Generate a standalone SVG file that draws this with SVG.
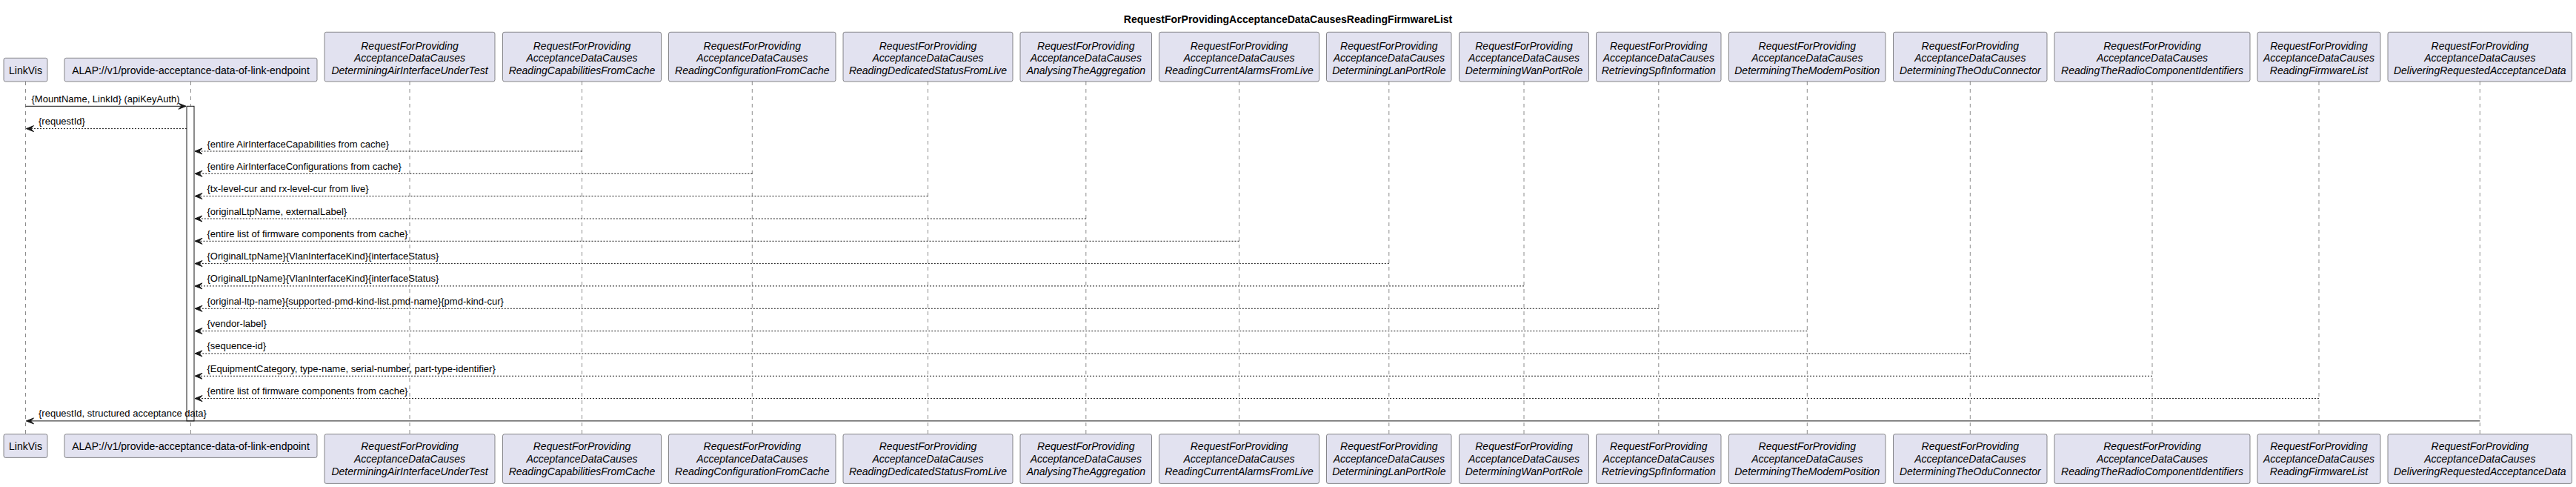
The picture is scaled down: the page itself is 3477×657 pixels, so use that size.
<svg xmlns="http://www.w3.org/2000/svg" width="3477" height="657" viewBox="0 0 3477 657">
<style>
.bg{fill:#FFFFFF}
.box{fill:#E2E2F0;stroke:#181818;stroke-width:0.5}
.pt{font-family:"Liberation Sans",Arial,sans-serif;font-size:14px;fill:#000000;text-anchor:middle}
.it{font-style:italic}
.life{stroke:#181818;stroke-width:0.5;stroke-dasharray:5,5;fill:none}
.act{fill:#FFFFFF;stroke:#181818;stroke-width:1}
.msg{stroke:#181818;stroke-width:1;fill:none;marker-end:url(#arr)}
.dash{stroke-dasharray:2,2}
.ml{font-family:"Liberation Sans",Arial,sans-serif;font-size:13px;fill:#000000}
.title{font-family:"Liberation Sans",Arial,sans-serif;font-size:14px;font-weight:bold;fill:#000000;text-anchor:middle}
</style>
<defs>
<marker id="arr" markerUnits="userSpaceOnUse" markerWidth="12" markerHeight="10" refX="10" refY="4" orient="auto" viewBox="-1 -1 12 10">
<path d="M0,0 L10,4 L0,8 L4,4 Z" fill="#181818" stroke="#181818" stroke-width="1" stroke-linejoin="miter"/>
</marker>
</defs>
<rect class="bg" x="0" y="0" width="3477" height="657"/>
<text class="title" x="1738.5" y="30.5">RequestForProvidingAcceptanceDataCausesReadingFirmwareList</text>

<g id="LinkVis">
<line class="life" x1="34.5" y1="110" x2="34.5" y2="585.7"/>
<rect class="box" x="5" y="78.3" width="59" height="31.7" rx="2.5"/>
<text class="pt" x="34.5" y="100">LinkVis</text>
<rect class="box" x="5" y="585.7" width="59" height="31.7" rx="2.5"/>
<text class="pt" x="34.5" y="607.3">LinkVis</text>
</g>

<g id="ALAP">
<line class="life" x1="257.5" y1="110" x2="257.5" y2="585.7"/>
<rect class="box" x="87" y="78.3" width="341" height="31.7" rx="2.5"/>
<text class="pt" x="257.5" y="100">ALAP://v1/provide-acceptance-data-of-link-endpoint</text>
<rect class="box" x="87" y="585.7" width="341" height="31.7" rx="2.5"/>
<text class="pt" x="257.5" y="607.3">ALAP://v1/provide-acceptance-data-of-link-endpoint</text>
</g>

<g id="DeterminingAirInterfaceUnderTest">
<line class="life" x1="553" y1="110" x2="553" y2="585.7"/>
<rect class="box" x="438" y="43.3" width="230" height="66.7" rx="2.5"/>
<text class="pt it" x="553" y="66.6">RequestForProviding</text>
<text class="pt it" x="553" y="83.3">AcceptanceDataCauses</text>
<text class="pt it" x="553" y="100">DeterminingAirInterfaceUnderTest</text>
<rect class="box" x="438" y="585.7" width="230" height="66.7" rx="2.5"/>
<text class="pt it" x="553" y="607.3">RequestForProviding</text>
<text class="pt it" x="553" y="624">AcceptanceDataCauses</text>
<text class="pt it" x="553" y="640.7">DeterminingAirInterfaceUnderTest</text>
</g>

<g id="ReadingCapabilitiesFromCache">
<line class="life" x1="785.5" y1="110" x2="785.5" y2="585.7"/>
<rect class="box" x="678.5" y="43.3" width="214" height="66.7" rx="2.5"/>
<text class="pt it" x="785.5" y="66.6">RequestForProviding</text>
<text class="pt it" x="785.5" y="83.3">AcceptanceDataCauses</text>
<text class="pt it" x="785.5" y="100">ReadingCapabilitiesFromCache</text>
<rect class="box" x="678.5" y="585.7" width="214" height="66.7" rx="2.5"/>
<text class="pt it" x="785.5" y="607.3">RequestForProviding</text>
<text class="pt it" x="785.5" y="624">AcceptanceDataCauses</text>
<text class="pt it" x="785.5" y="640.7">ReadingCapabilitiesFromCache</text>
</g>

<g id="ReadingConfigurationFromCache">
<line class="life" x1="1015.3" y1="110" x2="1015.3" y2="585.7"/>
<rect class="box" x="902.5" y="43.3" width="225.5" height="66.7" rx="2.5"/>
<text class="pt it" x="1015.3" y="66.6">RequestForProviding</text>
<text class="pt it" x="1015.3" y="83.3">AcceptanceDataCauses</text>
<text class="pt it" x="1015.3" y="100">ReadingConfigurationFromCache</text>
<rect class="box" x="902.5" y="585.7" width="225.5" height="66.7" rx="2.5"/>
<text class="pt it" x="1015.3" y="607.3">RequestForProviding</text>
<text class="pt it" x="1015.3" y="624">AcceptanceDataCauses</text>
<text class="pt it" x="1015.3" y="640.7">ReadingConfigurationFromCache</text>
</g>

<g id="ReadingDedicatedStatusFromLive">
<line class="life" x1="1252.5" y1="110" x2="1252.5" y2="585.7"/>
<rect class="box" x="1138" y="43.3" width="229" height="66.7" rx="2.5"/>
<text class="pt it" x="1252.5" y="66.6">RequestForProviding</text>
<text class="pt it" x="1252.5" y="83.3">AcceptanceDataCauses</text>
<text class="pt it" x="1252.5" y="100">ReadingDedicatedStatusFromLive</text>
<rect class="box" x="1138" y="585.7" width="229" height="66.7" rx="2.5"/>
<text class="pt it" x="1252.5" y="607.3">RequestForProviding</text>
<text class="pt it" x="1252.5" y="624">AcceptanceDataCauses</text>
<text class="pt it" x="1252.5" y="640.7">ReadingDedicatedStatusFromLive</text>
</g>

<g id="AnalysingTheAggregation">
<line class="life" x1="1465.8" y1="110" x2="1465.8" y2="585.7"/>
<rect class="box" x="1377" y="43.3" width="177.5" height="66.7" rx="2.5"/>
<text class="pt it" x="1465.8" y="66.6">RequestForProviding</text>
<text class="pt it" x="1465.8" y="83.3">AcceptanceDataCauses</text>
<text class="pt it" x="1465.8" y="100">AnalysingTheAggregation</text>
<rect class="box" x="1377" y="585.7" width="177.5" height="66.7" rx="2.5"/>
<text class="pt it" x="1465.8" y="607.3">RequestForProviding</text>
<text class="pt it" x="1465.8" y="624">AcceptanceDataCauses</text>
<text class="pt it" x="1465.8" y="640.7">AnalysingTheAggregation</text>
</g>

<g id="ReadingCurrentAlarmsFromLive">
<line class="life" x1="1672.5" y1="110" x2="1672.5" y2="585.7"/>
<rect class="box" x="1564.5" y="43.3" width="216" height="66.7" rx="2.5"/>
<text class="pt it" x="1672.5" y="66.6">RequestForProviding</text>
<text class="pt it" x="1672.5" y="83.3">AcceptanceDataCauses</text>
<text class="pt it" x="1672.5" y="100">ReadingCurrentAlarmsFromLive</text>
<rect class="box" x="1564.5" y="585.7" width="216" height="66.7" rx="2.5"/>
<text class="pt it" x="1672.5" y="607.3">RequestForProviding</text>
<text class="pt it" x="1672.5" y="624">AcceptanceDataCauses</text>
<text class="pt it" x="1672.5" y="640.7">ReadingCurrentAlarmsFromLive</text>
</g>

<g id="DeterminingLanPortRole">
<line class="life" x1="1874.8" y1="110" x2="1874.8" y2="585.7"/>
<rect class="box" x="1790.5" y="43.3" width="168.5" height="66.7" rx="2.5"/>
<text class="pt it" x="1874.8" y="66.6">RequestForProviding</text>
<text class="pt it" x="1874.8" y="83.3">AcceptanceDataCauses</text>
<text class="pt it" x="1874.8" y="100">DeterminingLanPortRole</text>
<rect class="box" x="1790.5" y="585.7" width="168.5" height="66.7" rx="2.5"/>
<text class="pt it" x="1874.8" y="607.3">RequestForProviding</text>
<text class="pt it" x="1874.8" y="624">AcceptanceDataCauses</text>
<text class="pt it" x="1874.8" y="640.7">DeterminingLanPortRole</text>
</g>

<g id="DeterminingWanPortRole">
<line class="life" x1="2057" y1="110" x2="2057" y2="585.7"/>
<rect class="box" x="1969.5" y="43.3" width="175" height="66.7" rx="2.5"/>
<text class="pt it" x="2057" y="66.6">RequestForProviding</text>
<text class="pt it" x="2057" y="83.3">AcceptanceDataCauses</text>
<text class="pt it" x="2057" y="100">DeterminingWanPortRole</text>
<rect class="box" x="1969.5" y="585.7" width="175" height="66.7" rx="2.5"/>
<text class="pt it" x="2057" y="607.3">RequestForProviding</text>
<text class="pt it" x="2057" y="624">AcceptanceDataCauses</text>
<text class="pt it" x="2057" y="640.7">DeterminingWanPortRole</text>
</g>

<g id="RetrievingSpfInformation">
<line class="life" x1="2238.8" y1="110" x2="2238.8" y2="585.7"/>
<rect class="box" x="2154.5" y="43.3" width="168.5" height="66.7" rx="2.5"/>
<text class="pt it" x="2238.8" y="66.6">RequestForProviding</text>
<text class="pt it" x="2238.8" y="83.3">AcceptanceDataCauses</text>
<text class="pt it" x="2238.8" y="100">RetrievingSpfInformation</text>
<rect class="box" x="2154.5" y="585.7" width="168.5" height="66.7" rx="2.5"/>
<text class="pt it" x="2238.8" y="607.3">RequestForProviding</text>
<text class="pt it" x="2238.8" y="624">AcceptanceDataCauses</text>
<text class="pt it" x="2238.8" y="640.7">RetrievingSpfInformation</text>
</g>

<g id="DeterminingTheModemPosition">
<line class="life" x1="2439.3" y1="110" x2="2439.3" y2="585.7"/>
<rect class="box" x="2333.5" y="43.3" width="211.5" height="66.7" rx="2.5"/>
<text class="pt it" x="2439.3" y="66.6">RequestForProviding</text>
<text class="pt it" x="2439.3" y="83.3">AcceptanceDataCauses</text>
<text class="pt it" x="2439.3" y="100">DeterminingTheModemPosition</text>
<rect class="box" x="2333.5" y="585.7" width="211.5" height="66.7" rx="2.5"/>
<text class="pt it" x="2439.3" y="607.3">RequestForProviding</text>
<text class="pt it" x="2439.3" y="624">AcceptanceDataCauses</text>
<text class="pt it" x="2439.3" y="640.7">DeterminingTheModemPosition</text>
</g>

<g id="DeterminingTheOduConnector">
<line class="life" x1="2659.3" y1="110" x2="2659.3" y2="585.7"/>
<rect class="box" x="2555.5" y="43.3" width="207.5" height="66.7" rx="2.5"/>
<text class="pt it" x="2659.3" y="66.6">RequestForProviding</text>
<text class="pt it" x="2659.3" y="83.3">AcceptanceDataCauses</text>
<text class="pt it" x="2659.3" y="100">DeterminingTheOduConnector</text>
<rect class="box" x="2555.5" y="585.7" width="207.5" height="66.7" rx="2.5"/>
<text class="pt it" x="2659.3" y="607.3">RequestForProviding</text>
<text class="pt it" x="2659.3" y="624">AcceptanceDataCauses</text>
<text class="pt it" x="2659.3" y="640.7">DeterminingTheOduConnector</text>
</g>

<g id="ReadingTheRadioComponentIdentifiers">
<line class="life" x1="2905" y1="110" x2="2905" y2="585.7"/>
<rect class="box" x="2773" y="43.3" width="264" height="66.7" rx="2.5"/>
<text class="pt it" x="2905" y="66.6">RequestForProviding</text>
<text class="pt it" x="2905" y="83.3">AcceptanceDataCauses</text>
<text class="pt it" x="2905" y="100">ReadingTheRadioComponentIdentifiers</text>
<rect class="box" x="2773" y="585.7" width="264" height="66.7" rx="2.5"/>
<text class="pt it" x="2905" y="607.3">RequestForProviding</text>
<text class="pt it" x="2905" y="624">AcceptanceDataCauses</text>
<text class="pt it" x="2905" y="640.7">ReadingTheRadioComponentIdentifiers</text>
</g>

<g id="ReadingFirmwareList">
<line class="life" x1="3130" y1="110" x2="3130" y2="585.7"/>
<rect class="box" x="3047" y="43.3" width="166" height="66.7" rx="2.5"/>
<text class="pt it" x="3130" y="66.6">RequestForProviding</text>
<text class="pt it" x="3130" y="83.3">AcceptanceDataCauses</text>
<text class="pt it" x="3130" y="100">ReadingFirmwareList</text>
<rect class="box" x="3047" y="585.7" width="166" height="66.7" rx="2.5"/>
<text class="pt it" x="3130" y="607.3">RequestForProviding</text>
<text class="pt it" x="3130" y="624">AcceptanceDataCauses</text>
<text class="pt it" x="3130" y="640.7">ReadingFirmwareList</text>
</g>

<g id="DeliveringRequestedAcceptanceData">
<line class="life" x1="3347.3" y1="110" x2="3347.3" y2="585.7"/>
<rect class="box" x="3223" y="43.3" width="248.5" height="66.7" rx="2.5"/>
<text class="pt it" x="3347.3" y="66.6">RequestForProviding</text>
<text class="pt it" x="3347.3" y="83.3">AcceptanceDataCauses</text>
<text class="pt it" x="3347.3" y="100">DeliveringRequestedAcceptanceData</text>
<rect class="box" x="3223" y="585.7" width="248.5" height="66.7" rx="2.5"/>
<text class="pt it" x="3347.3" y="607.3">RequestForProviding</text>
<text class="pt it" x="3347.3" y="624">AcceptanceDataCauses</text>
<text class="pt it" x="3347.3" y="640.7">DeliveringRequestedAcceptanceData</text>
</g>

<g id="activation">
<rect class="act" x="252" y="143.3" width="10" height="424.6"/>
</g>

<g id="connectors">
<line class="msg" x1="34.5" y1="143.3" x2="251" y2="143.3"/>
<text class="ml" x="42.5" y="137.8">{MountName, LinkId} (apiKeyAuth)</text>
<line class="msg dash" x1="252" y1="173.6" x2="35.5" y2="173.6"/>
<text class="ml" x="52" y="168.1">{requestId}</text>
<line class="msg dash" x1="785.5" y1="204" x2="263" y2="204"/>
<text class="ml" x="279.5" y="198.5">{entire AirInterfaceCapabilities from cache}</text>
<line class="msg dash" x1="1015.3" y1="234.3" x2="263" y2="234.3"/>
<text class="ml" x="279.5" y="228.8">{entire AirInterfaceConfigurations from cache}</text>
<line class="msg dash" x1="1252.5" y1="264.6" x2="263" y2="264.6"/>
<text class="ml" x="279.5" y="259.1">{tx-level-cur and rx-level-cur from live}</text>
<line class="msg dash" x1="1465.8" y1="295" x2="263" y2="295"/>
<text class="ml" x="279.5" y="289.5">{originalLtpName, externalLabel}</text>
<line class="msg dash" x1="1672.5" y1="325.3" x2="263" y2="325.3"/>
<text class="ml" x="279.5" y="319.8">{entire list of firmware components from cache}</text>
<line class="msg dash" x1="1874.8" y1="355.6" x2="263" y2="355.6"/>
<text class="ml" x="279.5" y="350.1">{OriginalLtpName}{VlanInterfaceKind}{interfaceStatus}</text>
<line class="msg dash" x1="2057" y1="385.9" x2="263" y2="385.9"/>
<text class="ml" x="279.5" y="380.4">{OriginalLtpName}{VlanInterfaceKind}{interfaceStatus}</text>
<line class="msg dash" x1="2238.8" y1="416.3" x2="263" y2="416.3"/>
<text class="ml" x="279.5" y="410.8">{original-ltp-name}{supported-pmd-kind-list.pmd-name}{pmd-kind-cur}</text>
<line class="msg dash" x1="2439.3" y1="446.6" x2="263" y2="446.6"/>
<text class="ml" x="279.5" y="441.1">{vendor-label}</text>
<line class="msg dash" x1="2659.3" y1="476.9" x2="263" y2="476.9"/>
<text class="ml" x="279.5" y="471.4">{sequence-id}</text>
<line class="msg dash" x1="2905" y1="507.3" x2="263" y2="507.3"/>
<text class="ml" x="279.5" y="501.8">{EquipmentCategory, type-name, serial-number, part-type-identifier}</text>
<line class="msg dash" x1="3130" y1="537.6" x2="263" y2="537.6"/>
<text class="ml" x="279.5" y="532.1">{entire list of firmware components from cache}</text>
<line class="msg" x1="3347.3" y1="567.9" x2="35.5" y2="567.9"/>
<text class="ml" x="52" y="562.4">{requestId, structured acceptance data}</text>
</g>
</svg>
